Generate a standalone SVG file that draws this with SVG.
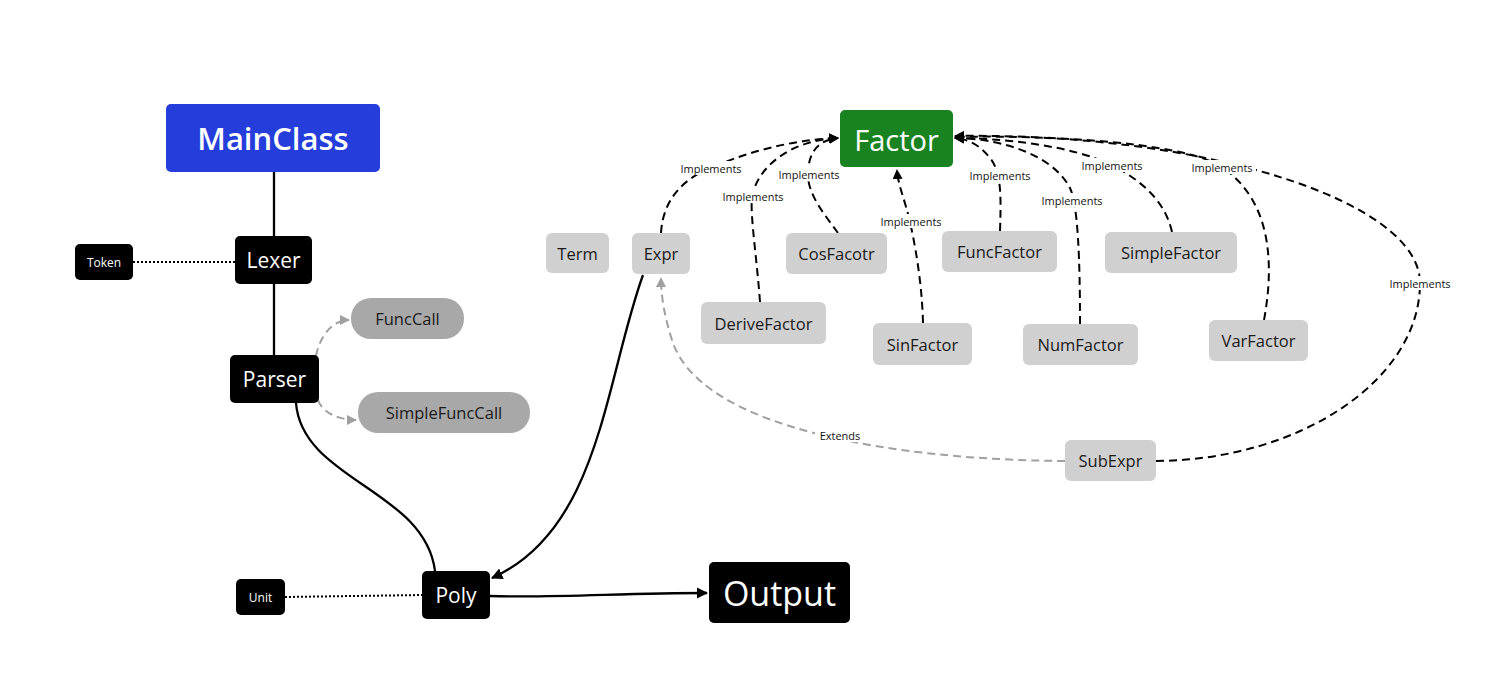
<svg xmlns="http://www.w3.org/2000/svg" width="1510" height="675" viewBox="0 0 1510 675">
<style>
text{font-family:"Open Sans","Noto Sans","Liberation Sans",sans-serif;text-anchor:middle;dominant-baseline:central}
.blk rect{fill:#000}
.blk text{fill:#fff}
.gry rect{fill:#d0d0d0}
.gry text{fill:#1a1a1a;font-size:16.5px}
.pill rect{fill:#a8a8a8}
.pill text{fill:#1a1a1a;font-size:16.5px}
.solid{fill:none;stroke:#000;stroke-width:2.3}
.dot{fill:none;stroke:#000;stroke-width:2;stroke-dasharray:2 2}
.impl{fill:none;stroke:#000;stroke-width:2;stroke-dasharray:8 5}
.ext{fill:none;stroke:#a0a0a0;stroke-width:2;stroke-dasharray:8 5}
.lbl rect{fill:#fff}
.lbl text{font-size:11px;fill:#111}
</style>
<defs>
<marker id="ab" viewBox="0 0 10 10" refX="9" refY="5" markerWidth="5" markerHeight="5" orient="auto"><path d="M0,0 L10,5 L0,10 z" fill="#000"/></marker>
<marker id="ag" viewBox="0 0 10 10" refX="9" refY="5" markerWidth="5" markerHeight="5" orient="auto"><path d="M0,0 L10,5 L0,10 z" fill="#a0a0a0"/></marker>
</defs>
<rect width="1510" height="675" fill="#fff"/>
<g id="connectors">
<path class="solid" d="M274,172 L274,236"/>
<path class="solid" d="M274,284 L274,355"/>
<path class="dot" d="M133,262 L235,262"/>
<path class="ext" marker-end="url(#ag)" d="M316,356 C320,335 333,320 349,320"/>
<path class="ext" marker-end="url(#ag)" d="M318,400 C322,412 338,420 356,420"/>
<path class="solid" d="M296,403 C302,480 425,490 435,571"/>
<path class="solid" marker-end="url(#ab)" d="M643,275 C605,380 600,530 492,578"/>
<path class="solid" marker-end="url(#ab)" d="M490,596 C560,598 620,593 707,593"/>
<path class="dot" d="M285,597 L422,595"/>
<path class="impl" marker-end="url(#ab)" d="M661,233 C663,198 685,178 711,168 C750,150 800,139 838,138"/>
<path class="impl" marker-end="url(#ab)" d="M760,302 C757,260 750,215 752,198 C756,168 790,140 838,138"/>
<path class="impl" marker-end="url(#ab)" d="M838,233 C825,215 808,195 808,175 C808,150 820,140 838,138"/>
<path class="impl" marker-end="url(#ab)" d="M923,323 C922,280 914,240 910,222 C905,200 898,185 897,170"/>
<path class="impl" marker-end="url(#ab)" d="M1000,231 C1001,200 1002,172 990,158 C980,145 968,139 955,138"/>
<path class="impl" marker-end="url(#ab)" d="M1080,324 C1080,260 1078,205 1070,188 C1050,150 990,138 955,138"/>
<path class="impl" marker-end="url(#ab)" d="M1172,232 C1165,200 1140,180 1112,165 C1070,145 1000,138 955,138"/>
<path class="impl" marker-end="url(#ab)" d="M1264,320 C1275,260 1270,200 1222,167 C1180,140 1030,135 955,137"/>
<path class="impl" marker-end="url(#ab)" d="M1156,461 C1300,460 1420,380 1420,283 C1420,200 1200,132 955,136"/>
<path class="ext" marker-end="url(#ag)" d="M1065,461 C900,460 700,430 672,340 C664,315 661,295 661,278"/>
<g class="lbl">
<rect x="677" y="161" width="68" height="14"/><text x="711" y="168">Implements</text>
<rect x="719" y="189" width="68" height="14"/><text x="753" y="196">Implements</text>
<rect x="775" y="167" width="68" height="14"/><text x="809" y="174">Implements</text>
<rect x="877" y="214" width="68" height="14"/><text x="911" y="221">Implements</text>
<rect x="966" y="168" width="68" height="14"/><text x="1000" y="175">Implements</text>
<rect x="1038" y="193" width="68" height="14"/><text x="1072" y="200">Implements</text>
<rect x="1078" y="158" width="68" height="14"/><text x="1112" y="165">Implements</text>
<rect x="1188" y="160" width="68" height="14"/><text x="1222" y="167">Implements</text>
<rect x="1386" y="276" width="68" height="14"/><text x="1420" y="283">Implements</text>
<rect x="815" y="428" width="50" height="14"/><text x="840" y="435">Extends</text>
</g>
</g>
<g id="MainClass"><rect x="166" y="104" width="214" height="68" rx="5" fill="#253DDB"/><text x="273" y="138" fill="#fff" font-size="31" font-weight="600">MainClass</text></g>
<g id="Lexer" class="blk"><rect x="235" y="236" width="77" height="48" rx="5"/><text x="273.5" y="260" font-size="21">Lexer</text></g>
<g id="Token" class="blk"><rect x="75" y="244" width="58" height="36" rx="5"/><text x="104" y="262" font-size="12">Token</text></g>
<g id="Parser" class="blk"><rect x="230" y="355" width="89" height="48" rx="5"/><text x="274.5" y="379" font-size="21">Parser</text></g>
<g id="FuncCall" class="pill"><rect x="351" y="298" width="113" height="41" rx="20"/><text x="407.5" y="318.5">FuncCall</text></g>
<g id="SimpleFuncCall" class="pill"><rect x="358" y="392" width="172" height="41" rx="20"/><text x="444" y="412.5">SimpleFuncCall</text></g>
<g id="Poly" class="blk"><rect x="422" y="571" width="68" height="48" rx="5"/><text x="456" y="595" font-size="21">Poly</text></g>
<g id="Unit" class="blk"><rect x="236" y="579" width="49" height="36" rx="5"/><text x="260.5" y="597" font-size="12">Unit</text></g>
<g id="Output" class="blk"><rect x="709" y="562" width="141" height="61" rx="5"/><text x="779.5" y="593" font-size="34">Output</text></g>
<g id="Factor"><rect x="840" y="110" width="113" height="57" rx="5" fill="#188320"/><text x="896.5" y="139" fill="#fff" font-size="29">Factor</text></g>
<g id="Term" class="gry"><rect x="546" y="233" width="63" height="40" rx="6"/><text x="577.5" y="253">Term</text></g>
<g id="Expr" class="gry"><rect x="632" y="233" width="58" height="41" rx="6"/><text x="661" y="253.5">Expr</text></g>
<g id="CosFacotr" class="gry"><rect x="786" y="233" width="101" height="41" rx="6"/><text x="836.5" y="253.5">CosFacotr</text></g>
<g id="FuncFactor" class="gry"><rect x="942" y="231" width="115" height="41" rx="6"/><text x="999.5" y="251.5">FuncFactor</text></g>
<g id="SimpleFactor" class="gry"><rect x="1105" y="232" width="132" height="41" rx="6"/><text x="1171" y="252.5">SimpleFactor</text></g>
<g id="DeriveFactor" class="gry"><rect x="701" y="302" width="125" height="42" rx="6"/><text x="763.5" y="323">DeriveFactor</text></g>
<g id="SinFactor" class="gry"><rect x="873" y="323" width="99" height="42" rx="6"/><text x="922.5" y="344">SinFactor</text></g>
<g id="NumFactor" class="gry"><rect x="1023" y="324" width="115" height="41" rx="6"/><text x="1080.5" y="344.5">NumFactor</text></g>
<g id="VarFactor" class="gry"><rect x="1209" y="320" width="99" height="41" rx="6"/><text x="1258.5" y="340.5">VarFactor</text></g>
<g id="SubExpr" class="gry"><rect x="1065" y="440" width="91" height="41" rx="6"/><text x="1110.5" y="460.5">SubExpr</text></g>
</svg>
